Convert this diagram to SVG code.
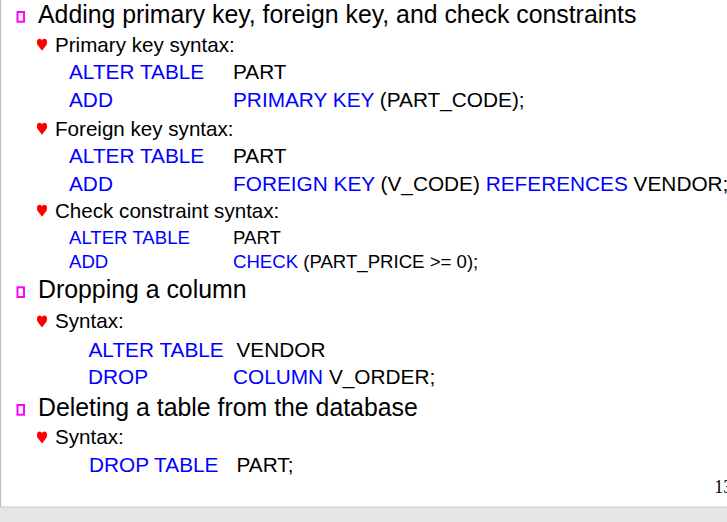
<svg xmlns="http://www.w3.org/2000/svg" width="727" height="522" viewBox="0 0 727 522">
<style>
text{font-family:"Liberation Sans",Arial,sans-serif;fill:#000}
.l1{font-size:24.85px}
.l2{font-size:20.6px}
.l3{font-size:20.8px}
.l3s{font-size:18.6px}
.b{fill:#0000ff}
.sq{fill:none;stroke:#ff00ff;stroke-width:2}
.ht{fill:#ff0000}
.pg{font-family:"Liberation Serif","Times New Roman",serif;font-size:18px}
</style>
<defs>
<path id="heart" d="M5,12 L0.8,6.5 C0,5.4 0,4.5 0,3 C0,1 1.3,0 2.6,0 C3.8,0 4.6,0.8 5,1.6 C5.4,0.8 6.2,0 7.4,0 C8.7,0 10,1 10,3 C10,4.5 10,5.4 9.2,6.5 Z"/>
</defs>
<rect x="0" y="0" width="727" height="522" fill="#ffffff"/>
<g id="frame">
<rect x="0" y="0" width="1.2" height="507" fill="#c0c0c0"/>
<rect x="0" y="507" width="727" height="15" fill="#e6e6e6"/>
<rect x="0" y="506.5" width="727" height="1" fill="#c8c8c8"/>
</g>
<g id="section1">
<rect class="sq" x="17.5" y="12" width="6.5" height="9.7"/>
<text class="l1" x="38" y="23">Adding primary key, foreign key, and check constraints</text>
<use href="#heart" class="ht" x="37" y="38.8"/>
<text class="l2" x="55" y="51.7">Primary key syntax:</text>
<text class="l3 b" x="69" y="79">ALTER TABLE</text>
<text class="l3" x="233" y="79">PART</text>
<text class="l3 b" x="69" y="106.7">ADD</text>
<text class="l3" x="233" y="106.7"><tspan class="b">PRIMARY KEY</tspan> (PART_CODE);</text>
<use href="#heart" class="ht" x="37" y="122.8"/>
<text class="l2" x="55" y="135.7">Foreign key syntax:</text>
<text class="l3 b" x="69" y="163">ALTER TABLE</text>
<text class="l3" x="233" y="163">PART</text>
<text class="l3 b" x="69" y="190.5">ADD</text>
<text class="l3" x="233" y="190.5"><tspan class="b">FOREIGN KEY</tspan> (V_CODE) <tspan class="b">REFERENCES</tspan> VENDOR;</text>
<use href="#heart" class="ht" x="37" y="204.8"/>
<text class="l2" x="55" y="217.7">Check constraint syntax:</text>
<text class="l3s b" x="69" y="244.3">ALTER TABLE</text>
<text class="l3s" x="233" y="244.3">PART</text>
<text class="l3s b" x="69" y="268.3">ADD</text>
<text class="l3s" x="233" y="268.3"><tspan class="b">CHECK</tspan> (PART_PRICE &gt;= 0);</text>
</g>
<g id="section2">
<rect class="sq" x="17.5" y="287.3" width="6.5" height="9.7"/>
<text class="l1" x="38" y="298.3">Dropping a column</text>
<use href="#heart" class="ht" x="37" y="315.4"/>
<text class="l2" x="55" y="328.3">Syntax:</text>
<text class="l3 b" x="88.5" y="356.7">ALTER TABLE</text>
<text class="l3" x="236.5" y="356.7">VENDOR</text>
<text class="l3 b" x="88" y="384">DROP</text>
<text class="l3" x="233" y="384"><tspan class="b">COLUMN</tspan> V_ORDER;</text>
</g>
<g id="section3">
<rect class="sq" x="17.5" y="405" width="6.5" height="9.7"/>
<text class="l1" x="38" y="416">Deleting a table from the database</text>
<use href="#heart" class="ht" x="37" y="431.4"/>
<text class="l2" x="55" y="444.3">Syntax:</text>
<text class="l3 b" x="89" y="471.7">DROP TABLE</text>
<text class="l3" x="236.5" y="471.7">PART;</text>
</g>
<text class="pg" x="714.3" y="493.3">13</text>
</svg>
